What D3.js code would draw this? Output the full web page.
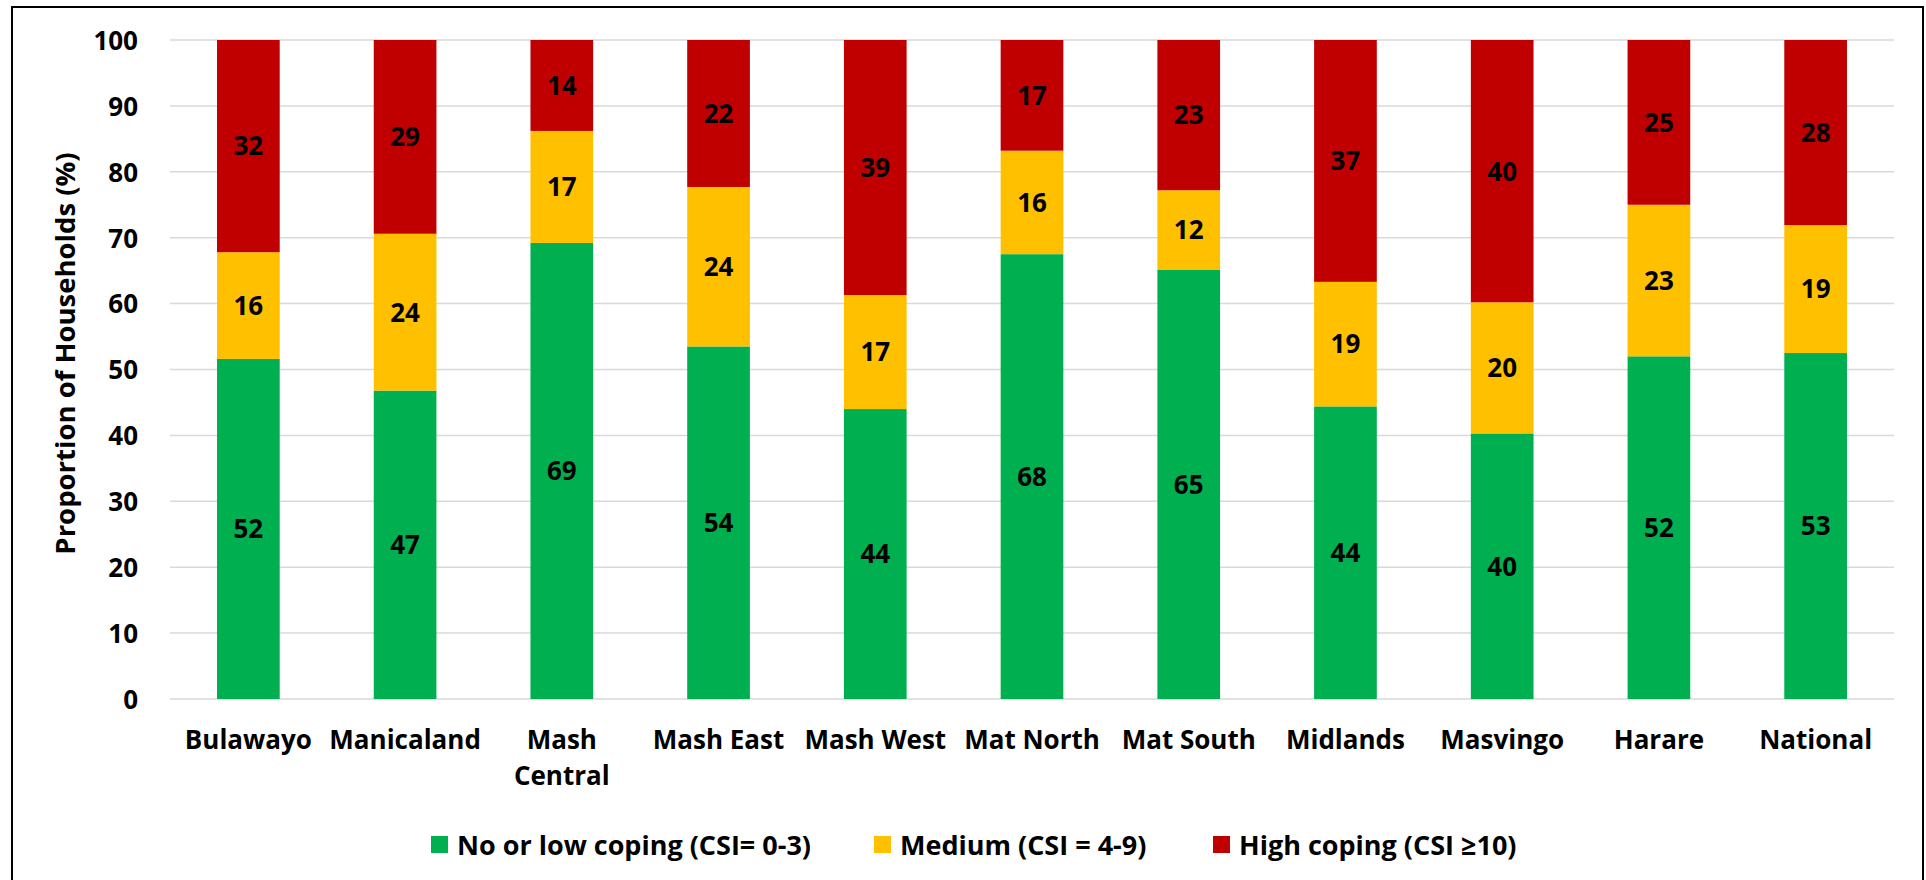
<!DOCTYPE html>
<html>
<head>
<meta charset="utf-8">
<script src="https://cdn.jsdelivr.net/npm/d3@7"></script>
<style>
  body { margin: 0; background: #fff; }
  svg text { font-family: "Open Sans", Lato, sans-serif; font-weight: bold; fill: #000; }
</style>
</head>
<body>
<svg id="chart" width="1926" height="880"></svg>
<script>
// provinces
var provinces = ["Bulawayo", "Manicaland", "Mash Central", "Mash East", "Mash West", "Mat North",
  "Mat South", "Midlands", "Masvingo", "Harare", "National"];
// % of households per CSI group
var lowCoping    = [51.6, 46.8, 69.2, 53.5, 44.0, 67.5, 65.1, 44.4, 40.3, 52.0, 52.5];
var mediumCoping = [16.2, 23.8, 17.0, 24.2, 17.3, 15.7, 12.1, 18.9, 19.9, 23.0, 19.4];
var highCoping   = [32.2, 29.4, 13.8, 22.3, 38.7, 16.8, 22.8, 36.7, 39.8, 25.0, 28.1];
var seriesNames = ["No or low coping (CSI= 0-3)", "Medium (CSI = 4-9)", "High coping (CSI \u226510)"];
var yTicks = [0, 10, 20, 30, 40, 50, 60, 70, 80, 90, 100];

var colors = ["#00B050", "#FFC000", "#C00000"];

var svg = d3.select("#chart");

// outer frame
svg.append("rect")
  .attr("x", 12).attr("y", 7)
  .attr("width", 1911).attr("height", 900)
  .attr("fill", "none")
  .attr("stroke", "#000")
  .attr("stroke-width", 2);

var margin = {left: 170, right: 32, top: 40, bottom: 181};
var width = 1926 - margin.left - margin.right,
    height = 880 - margin.top - margin.bottom;

var g = svg.append("g").attr("transform", "translate(" + margin.left + "," + margin.top + ")");

var x = d3.scaleBand().domain(provinces).range([0, width]).paddingInner(0.6).paddingOuter(0.3);
var y = d3.scaleLinear().domain([0, 100]).range([height, 0]);

// gridlines
g.append("g")
  .selectAll("line")
  .data(yTicks)
  .enter()
  .append("line")
    .attr("x1", 0).attr("x2", width)
    .attr("y1", function(d) { return y(d); })
    .attr("y2", function(d) { return y(d); })
    .attr("stroke", "#d9d9d9")
    .attr("stroke-width", 1.5);

// y axis labels
var yAxis = g.append("g")
  .call(d3.axisLeft(y).tickValues(yTicks).tickSize(0).tickPadding(32));
yAxis.select(".domain").remove();
yAxis.selectAll("text")
  .style("font-size", "26px")
  .attr("dy", "0.36em");

// y axis title
g.append("text")
  .attr("transform", "translate(-95," + (y(50) - 16) + ") rotate(-90)")
  .attr("text-anchor", "middle")
  .style("font-size", "27.5px")
  .text("Proportion of Households (%)");

// x axis labels
var xAxis = g.append("g")
  .attr("transform", "translate(0," + height + ")")
  .call(d3.axisBottom(x).tickSize(0).tickPadding(32));
xAxis.select(".domain").remove();
xAxis.selectAll("text")
  .style("font-size", "26px")
  .attr("dy", "0.71em")
  .call(wrap, x.step());

// stacked data
var table = provinces.map(function(p, i) {
  return {province: p, low: lowCoping[i], medium: mediumCoping[i], high: highCoping[i]};
});
var keys = ["low", "medium", "high"];
var stacked = d3.stack().keys(keys)(table);

var layers = g.append("g")
  .selectAll("g")
  .data(stacked)
  .enter()
  .append("g")
    .attr("fill", function(d, i) { return colors[i]; });

layers.selectAll("rect")
  .data(function(d) { return d; })
  .enter()
  .append("rect")
    .attr("x", function(d) { return x(d.data.province); })
    .attr("y", function(d) { return y(d[1]); })
    .attr("width", x.bandwidth())
    .attr("height", function(d) { return y(d[0]) - y(d[1]); });

// value labels in the middle of each piece
layers.selectAll("text")
  .data(function(d) { return d; })
  .enter()
  .append("text")
    .attr("x", function(d) { return x(d.data.province) + x.bandwidth() / 2; })
    .attr("y", function(d) { return y((d[0] + d[1]) / 2); })
    .attr("dy", "0.36em")
    .attr("text-anchor", "middle")
    .style("font-size", "26px")
    .text(function(d) { return d3.format(".0f")(d[1] - d[0]); });

// legend
var legendX = [431, 874, 1213];
var legend = svg.append("g")
  .selectAll("g")
  .data(seriesNames)
  .enter()
  .append("g")
    .attr("transform", function(d, i) { return "translate(" + legendX[i] + ",836)"; });
legend.append("rect")
  .attr("width", 17).attr("height", 17)
  .attr("fill", function(d, i) { return colors[i]; });
legend.append("text")
  .attr("x", 26).attr("y", 9)
  .attr("dy", "0.36em")
  .style("font-size", "27px")
  .text(function(d) { return d; });

// word wrap for long category names (Excel style)
function wrap(texts, w) {
  texts.each(function() {
    var text = d3.select(this),
        words = text.text().split(/\s+/),
        tx = text.attr("x") || 0, ty = text.attr("y"), dy = text.attr("dy");
    if (this.getComputedTextLength() <= w - 4) return;
    text.text(null);
    words.forEach(function(word, i) {
      text.append("tspan")
        .attr("x", tx).attr("y", ty)
        .attr("dy", i === 0 ? dy : (0.71 + i * 1.35) + "em")
        .text(word);
    });
  });
}
</script>
</body>
</html>
